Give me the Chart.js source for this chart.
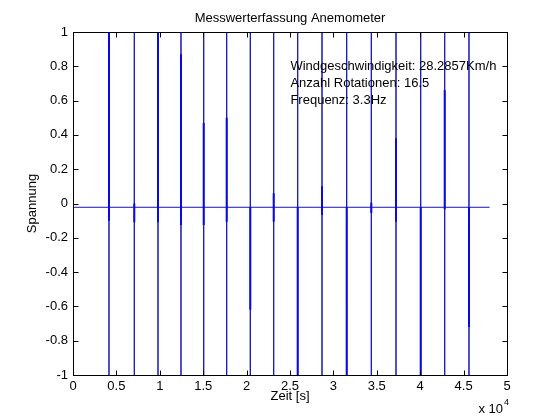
<!DOCTYPE html>
<html><head><meta charset="utf-8">
<script src="https://cdn.jsdelivr.net/npm/chart.js@4/dist/chart.umd.min.js"></script>
<style>html,body{margin:0;padding:0;background:#fff}</style>
</head><body>
<canvas id="c" width="560" height="420"></canvas>
<script>
// ---- data ----
const chartTitle = 'Messwerterfassung Anemometer';
const xLabel = 'Zeit [s]';
const yLabel = 'Spannung';
const baseline = -0.022;
const signalStart = 0;
const signalEnd = 48000;
const spikeTimes = [4147, 7062, 9793, 12442, 15058, 17707, 20426, 23122, 25887, 28687, 31532, 34366, 37212, 40058, 42823, 45622];
const spikeHigh = [1, 1, 1, 1, 1, 1, 1, 1, 1, 1, 1, 1, 1, 1, 1, 1];
const spikeLow = [-1, -1, -1, -1, -1, -1, -1, -1, -1, -1, -1, -1, -1, -1, -1, -1];
const burstHigh = [1, 0.0, 1, 0.87, 0.47, 0.5, -0.02, 0.06, -0.02, 0.1, -0.02, 0.005, 0.38, -0.02, 0.66, -0.02];
const burstLow = [-0.1, -0.11, -0.11, -0.125, -0.125, -0.106, -0.62, -0.106, -1, -0.067, -1, -0.055, -0.106, -1, -0.034, -0.72];
const annotationLines = ['Windgeschwindigkeit: 28.2857Km/h', 'Anzahl Rotationen: 16.5', 'Frequenz: 3.3Hz'];
const annotationX = 25050;
const annotationY = [0.8, 0.7, 0.6];
const xTicks = [0, 5000, 10000, 15000, 20000, 25000, 30000, 35000, 40000, 45000, 50000];
const yTicks = [-1, -0.8, -0.6, -0.4, -0.2, 0, 0.2, 0.4, 0.6, 0.8, 1];
const xExponent = '4';

// ---- build datasets ----
const thinData = [{x: signalStart, y: baseline}];
spikeTimes.forEach((t, i) => {
  thinData.push({x: t, y: baseline}, {x: t, y: spikeHigh[i]}, {x: t, y: spikeLow[i]}, {x: t, y: baseline});
});
thinData.push({x: signalEnd, y: baseline});
const thickData = [];
spikeTimes.forEach((t, i) => {
  thickData.push({x: t, y: burstHigh[i]}, {x: t, y: burstLow[i]}, {x: t, y: null});
});

const FONT = 'Liberation Sans, Arial, Helvetica, sans-serif';
const THIN = '#1616b8';
const THICK = '#0808e8';

const boxPlugin = {
  id: 'matlabBox',
  afterDraw(chart) {
    const {ctx, chartArea: a, scales: {x, y}} = chart;
    ctx.save();
    ctx.strokeStyle = '#000';
    ctx.lineWidth = 1;
    const L = Math.round(a.left) + 0.5, R = Math.round(a.right) + 0.5;
    const T = Math.round(a.top) + 0.5, B = Math.round(a.bottom) + 0.5;
    ctx.strokeRect(L, T, R - L, B - T);
    const tl = 5;
    ctx.beginPath();
    xTicks.forEach(v => {
      const px = Math.round(x.getPixelForValue(v)) + 0.5;
      ctx.moveTo(px, B); ctx.lineTo(px, B - tl);
      ctx.moveTo(px, T); ctx.lineTo(px, T + tl);
    });
    yTicks.forEach(v => {
      const py = Math.round(y.getPixelForValue(v)) + 0.5;
      ctx.moveTo(L, py); ctx.lineTo(L + tl, py);
      ctx.moveTo(R, py); ctx.lineTo(R - tl, py);
    });
    ctx.stroke();
    ctx.fillStyle = '#000';
    // title centred over the axes box
    ctx.font = '13px ' + FONT;
    ctx.textAlign = 'center';
    ctx.textBaseline = 'middle';
    ctx.fillText(chartTitle, (a.left + a.right) / 2, a.top - 14);
    // annotation text
    ctx.textAlign = 'left';
    annotationLines.forEach((s, i) => {
      ctx.fillText(s, x.getPixelForValue(annotationX), y.getPixelForValue(annotationY[i]));
    });
    // exponent label
    ctx.textBaseline = 'alphabetic';
    const ex = 'x 10';
    const w = ctx.measureText(ex).width;
    ctx.font = '9px ' + FONT;
    const we = ctx.measureText(xExponent).width;
    const rx = a.right - we - w + 1;
    ctx.font = '13px ' + FONT;
    ctx.fillText(ex, rx, a.bottom + 38);
    ctx.font = '9px ' + FONT;
    ctx.fillText(xExponent, rx + w + 1, a.bottom + 30);
    ctx.restore();
  }
};

new Chart(document.getElementById('c'), {
  type: 'scatter',
  data: {
    datasets: [
      {data: thickData, showLine: true, borderColor: THICK, backgroundColor: THICK, borderWidth: 2, pointRadius: 0, spanGaps: false, tension: 0},
      {data: thinData, showLine: true, borderColor: THIN, backgroundColor: THIN, borderWidth: 1, pointRadius: 0, spanGaps: false, tension: 0}
    ]
  },
  options: {
    responsive: false,
    animation: false,
    devicePixelRatio: 1,
    layout: {padding: {top: 32, left: 0, right: 53, bottom: 0}},
    plugins: {
      legend: {display: false},
      tooltip: {enabled: false},
      title: {display: false}
    },
    scales: {
      x: {
        type: 'linear', position: 'bottom', min: 0, max: 50000,
        afterBuildTicks: s => { s.ticks = xTicks.map(v => ({value: v})); },
        afterFit: s => { s.height = 45; },
        grid: {display: false, drawTicks: false},
        border: {display: false},
        ticks: {color: '#000', padding: 4, autoSkip: false, maxRotation: 0, font: {family: FONT, size: 13},
          callback: v => String(Number((v / 10000).toFixed(1)))},
        title: {display: true, text: xLabel, color: '#000', font: {family: FONT, size: 13}, padding: {top: 0, bottom: 16.2}}
      },
      y: {
        type: 'linear', position: 'left', min: -1, max: 1,
        afterBuildTicks: s => { s.ticks = yTicks.map(v => ({value: v})); },
        afterFit: s => { s.width = 73; },
        grid: {display: false, drawTicks: false},
        border: {display: false},
        ticks: {color: '#000', padding: 5, autoSkip: false, font: {family: FONT, size: 13},
          callback: v => String(Number(v.toFixed(1)))},
        title: {display: true, text: yLabel, color: '#000', font: {family: FONT, size: 13}, padding: {top: 24.2, bottom: 0}}
      }
    }
  },
  plugins: [boxPlugin]
});
</script>
</body></html>
